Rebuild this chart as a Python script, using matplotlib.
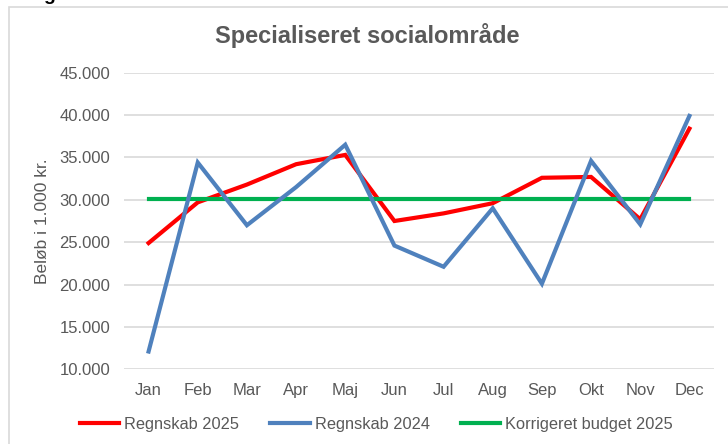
import matplotlib
matplotlib.use("Agg")
from matplotlib import pyplot as plt
from matplotlib.patches import Rectangle
from matplotlib.ticker import FuncFormatter

# data (1.000 kr.)
months = ["Jan", "Feb", "Mar", "Apr", "Maj", "Jun", "Jul", "Aug", "Sep", "Okt", "Nov", "Dec"]
regnskab_2025 = [24900, 29700, 31800, 34200, 35300, 27500, 28400, 29600, 32600, 32700, 27700, 38400]
regnskab_2024 = [12100, 34400, 27000, 31500, 36500, 24600, 22100, 29000, 20100, 34600, 27100, 39900]
budget_2025 = [30050] * 12

yticks = [10000, 15000, 20000, 25000, 30000, 35000, 40000, 45000]

plt.rcParams['font.family'] = ['Liberation Sans', 'DejaVu Sans']
grey = "#595959"

fig = plt.figure(figsize=(7.28, 4.44), dpi=100)
W, H = 728, 444

# chart border
fig.patches.append(Rectangle((9 / W, -0.1), 1.2, 1 - 7 / H + 0.1, transform=fig.transFigure,
                             fill=False, edgecolor="#D9D9D9", linewidth=1.2))
# heading above the chart, cut off in the source picture
fig.text(43 / W, 1.0, "g", fontsize=14, fontweight="bold", color="black", va="baseline")

ax = fig.add_axes([124 / W, 1 - 369.3 / H, (714 - 124) / W, (369.3 - 72.7) / H])
x = range(len(months))
ax.plot(x, regnskab_2025, color="#FF0000", lw=3, label="Regnskab 2025", zorder=3, solid_joinstyle="miter")
ax.plot(x, regnskab_2024, color="#4F81BD", lw=3, label="Regnskab 2024", zorder=5, solid_joinstyle="miter")
ax.plot(x, budget_2025, color="#00B050", lw=3, label="Korrigeret budget 2025", zorder=4)

ax.set_xlim(-0.5, len(months) - 0.5)
ax.set_ylim(10000, 45000)
ax.set_yticks(yticks)
ax.yaxis.set_major_formatter(FuncFormatter(lambda v, p: f"{int(v):,}".replace(",", ".")))
ax.set_xticks(list(x))
ax.set_xticklabels(months)
ax.grid(axis="y", color="#D9D9D9", lw=1.2)
ax.set_axisbelow(True)
for s in ax.spines.values():
    s.set_visible(False)
ax.tick_params(length=0, labelsize=12, labelcolor=grey)
ax.tick_params(axis="x", pad=10)
ax.tick_params(axis="y", pad=10)
ax.set_ylabel("Beløb i 1.000 kr.", fontsize=12.5, color=grey, labelpad=7)

fig.text(367 / W, 1 - 35 / H, "Specialiseret socialområde", fontsize=17, fontweight="bold",
         color=grey, ha="center", va="center")

fig.legend(loc="center left", bbox_to_anchor=(80 / W, 1 - 424 / H), ncol=3, frameon=False,
           fontsize=11.8, labelcolor=grey, handlelength=2.4, handletextpad=0.3,
           columnspacing=1.9, borderpad=0, borderaxespad=0)

fig.savefig("out.png", dpi=100)
